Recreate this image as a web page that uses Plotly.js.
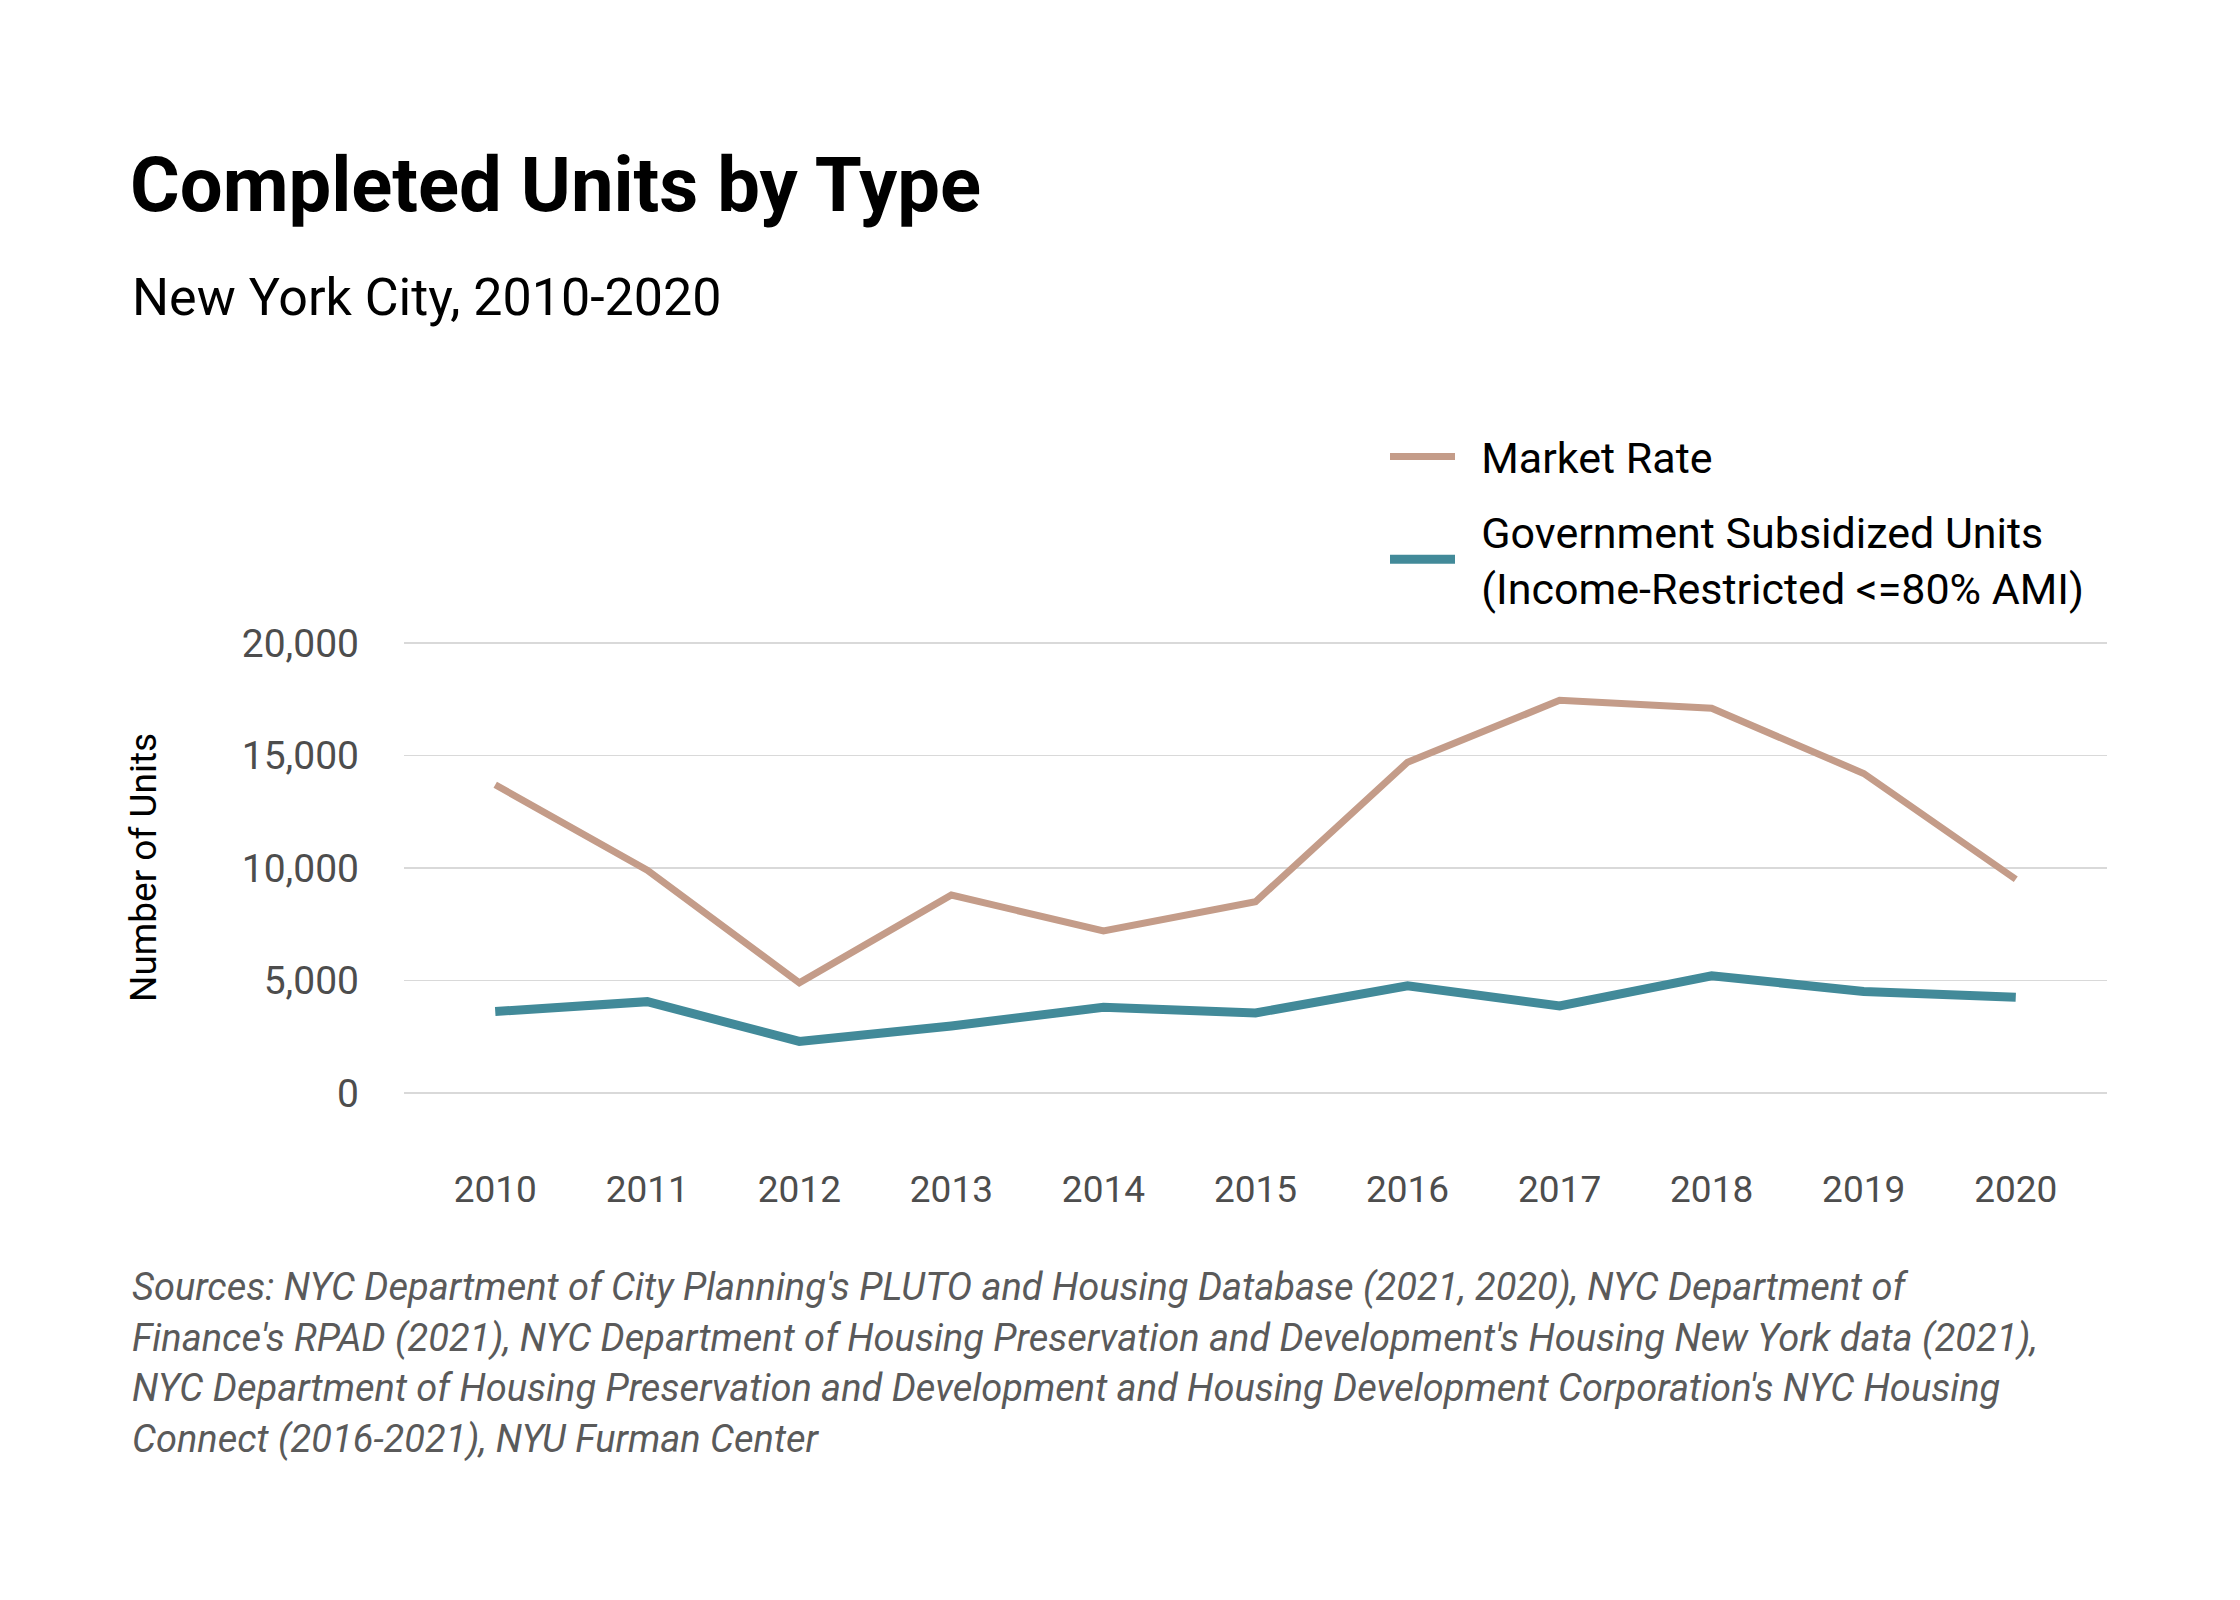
<!DOCTYPE html>
<html>
<head>
<meta charset="utf-8">
<script src="https://cdn.plot.ly/plotly-3.0.1.min.js"></script>
<style>html,body{margin:0;padding:0;background:#fff;}</style>
</head>
<body>
<div id="chart" style="width:2240px;height:1600px;"></div>
<script>
// ---- data ----
var years = ['2010','2011','2012','2013','2014','2015','2016','2017','2018','2019','2020'];
var marketRate = [13700, 9900, 4900, 8800, 7200, 8500, 14700, 17450, 17100, 14200, 9500];
var subsidized = [3620, 4060, 2290, 2980, 3810, 3560, 4760, 3870, 5210, 4510, 4250];
var yTickVals = [0, 5000, 10000, 15000, 20000];
var yTickText = ['0', '5,000', '10,000', '15,000', '20,000'];
var seriesNames = ['Market Rate', 'Government Subsidized Units<br>(Income-Restricted &lt;=80% AMI)'];
var titleText = 'Completed Units by Type';
var subtitleText = 'New York City, 2010-2020';
var yTitleText = 'Number of Units';
var sourceLines = [
  "Sources: NYC Department of City Planning's PLUTO and Housing Database (2021, 2020), NYC Department of",
  "Finance's RPAD (2021), NYC Department of Housing Preservation and Development's Housing New York data (2021),",
  "NYC Department of Housing Preservation and Development and Housing Development Corporation's NYC Housing",
  "Connect (2016-2021), NYU Furman Center"
];

// ---- layout geometry ----
var W = 2240, H = 1600;
var M = {l: 404, r: 133, t: 634, b: 436};
var PW = W - M.l - M.r, PH = H - M.t - M.b;
function px(x) { return (x - M.l) / PW; }
function py(y) { return (H - M.b - y) / PH; }

var FONT = 'Roboto, "Open Sans", sans-serif';
var GAP = '\u00a0\u00a0';
function padName(s) { return s.split('<br>').map(function (l) { return GAP + l; }).join('<br>'); }

var traces = [
  {x: years, y: marketRate, type: 'scatter', mode: 'lines', name: padName(seriesNames[0]),
   legendgroup: 'a', line: {color: '#c49c89', width: 7}},
  {x: years, y: subsidized, type: 'scatter', mode: 'lines', name: padName(seriesNames[1]),
   legendgroup: 'b', line: {color: '#428a99', width: 9}}
];

var annotations = [
  {text: '<b>' + titleText + '</b>', xref: 'paper', yref: 'paper', x: px(128), y: py(185),
   xanchor: 'left', yanchor: 'middle', showarrow: false,
   font: {family: FONT, size: 76, color: '#000'}},
  {text: subtitleText, xref: 'paper', yref: 'paper', x: px(130), y: py(297),
   xanchor: 'left', yanchor: 'middle', showarrow: false,
   font: {family: FONT, size: 52, color: '#000'}},
  {text: yTitleText, xref: 'paper', yref: 'y', x: px(143), y: 10000, textangle: -90,
   xanchor: 'center', yanchor: 'middle', showarrow: false,
   font: {family: FONT, size: 37, color: '#000'}}
];
for (var i = 0; i < sourceLines.length; i++) {
  annotations.push({text: '<i>' + sourceLines[i] + '</i>', xref: 'paper', yref: 'paper',
    x: px(130), y: py(1287 + i * 50.5), xanchor: 'left', yanchor: 'middle', showarrow: false,
    font: {family: FONT, size: 38, color: '#5a5a5a'}});
}

var layout = {
  width: W, height: H,
  margin: M,
  paper_bgcolor: '#fff', plot_bgcolor: '#fff',
  showlegend: true,
  legend: {x: px(1385), y: py(422), xanchor: 'left', yanchor: 'top',
    font: {family: FONT, size: 43, color: '#000'}, traceorder: 'grouped', tracegroupgap: 16,
    bgcolor: 'rgba(0,0,0,0)', itemwidth: 65},
  xaxis: {type: 'category', range: [-0.6, 10.6], showgrid: false, zeroline: false,
    showline: false, ticks: '', tickfont: {family: FONT, size: 37, color: '#4d4d4d'},
    fixedrange: true},
  yaxis: {range: [-3156, 20400], tickvals: yTickVals, ticktext: yTickText,
    showgrid: true, gridcolor: '#d9d9d9', gridwidth: 1.5, zeroline: false, showline: false,
    ticks: '', ticklabelstandoff: 44, tickfont: {family: FONT, size: 39, color: '#4d4d4d'},
    fixedrange: true},
  annotations: annotations
};

Plotly.newPlot('chart', traces, layout, {displayModeBar: false, staticPlot: true});
</script>
</body>
</html>
